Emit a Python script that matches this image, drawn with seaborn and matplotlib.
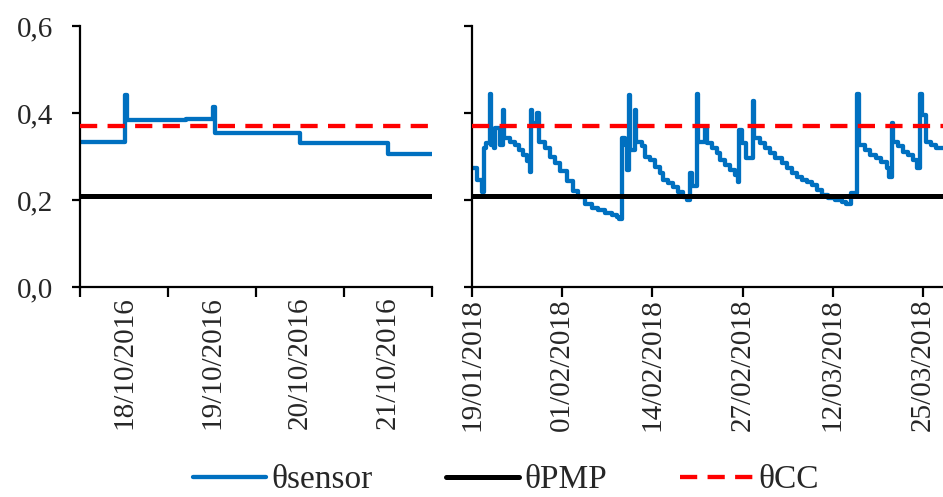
import matplotlib
matplotlib.use("Agg")
import matplotlib.pyplot as plt
from matplotlib.lines import Line2D
from matplotlib.ticker import FixedLocator, FixedFormatter
import pandas as pd
import seaborn as sns

# ---- data (days since the first plotted day, soil moisture theta) ----
left_days = [0.0, 0.51, 0.53, 1.2, 1.51, 1.53, 2.50, 3.50, 4.0]
left_theta = [0.334, 0.441, 0.384, 0.386, 0.414, 0.354, 0.330, 0.306, 0.306]

right_days = [0.0, 0.68, 1.44, 1.73, 1.97, 2.59, 2.74, 3.10, 3.31, 4.03, 4.51, 4.68,
              5.48, 6.20, 6.77, 7.35, 7.93, 8.29, 8.57, 8.72, 9.44, 9.65,
              10.52, 11.24, 11.96, 12.68, 13.65, 14.60, 15.32, 16.28, 17.25, 18.20,
              19.16, 20.13, 20.85, 21.18, 21.57, 22.05, 22.41, 22.67, 22.84, 23.44,
              23.63, 24.45, 24.93, 25.65, 26.37, 27.09, 27.56, 28.29, 29.01, 29.73,
              30.45, 30.94, 31.41, 31.66, 32.46, 32.64, 33.57, 33.82, 34.54, 35.26,
              35.73, 36.46, 37.18, 37.90, 38.29, 38.47, 38.95, 39.44, 40.53, 40.68,
              41.50, 42.22, 42.94, 43.66, 44.63, 45.35, 46.07, 46.79, 47.51, 48.23,
              48.95, 49.67, 50.39, 51.34, 52.31, 53.27, 53.89, 54.57, 55.52, 55.81,
              56.63, 57.35, 58.31, 59.03, 59.76, 60.13, 60.48, 60.71, 61.43, 62.15,
              62.87, 63.59, 64.17, 64.55, 64.94, 65.52, 66.24, 66.96, 67.9]
right_theta = [0.273, 0.246, 0.219, 0.319, 0.330, 0.444, 0.326, 0.319, 0.365, 0.326, 0.408, 0.342,
               0.334, 0.326, 0.315, 0.304, 0.290, 0.265, 0.408, 0.376, 0.401, 0.333,
               0.319, 0.300, 0.285, 0.266, 0.243, 0.220, 0.206, 0.191, 0.181, 0.176,
               0.171, 0.165, 0.160, 0.157, 0.342, 0.326, 0.269, 0.441, 0.315, 0.408,
               0.334, 0.323, 0.300, 0.292, 0.277, 0.261, 0.246, 0.238, 0.230, 0.219,
               0.207, 0.200, 0.261, 0.233, 0.444, 0.334, 0.365, 0.331, 0.319, 0.307,
               0.292, 0.280, 0.269, 0.257, 0.242, 0.361, 0.330, 0.296, 0.428, 0.342,
               0.331, 0.319, 0.308, 0.296, 0.285, 0.273, 0.262, 0.254, 0.246, 0.242,
               0.235, 0.223, 0.212, 0.204, 0.200, 0.196, 0.190, 0.215, 0.444, 0.326,
               0.315, 0.304, 0.296, 0.288, 0.273, 0.254, 0.376, 0.334, 0.323, 0.311,
               0.304, 0.292, 0.273, 0.444, 0.395, 0.334, 0.326, 0.319, 0.319]

theta_pmp = 0.21
theta_cc = 0.369

left_labels = ["18/10/2016", "19/10/2016", "20/10/2016", "21/10/2016"]
left_label_days = [0.5, 1.5, 2.5, 3.5]
left_tick_days = [0, 1, 2, 3, 4]
right_labels = ["19/01/2018", "01/02/2018", "14/02/2018", "27/02/2018", "12/03/2018", "25/03/2018"]
right_label_days = [0, 13, 26, 39, 52, 65]
y_ticks = [0.0, 0.2, 0.4, 0.6]
series_names = ["θsensor", "θPMP", "θCC"]

# ---- style ----
sns.set_style("ticks")
plt.rcParams['font.family'] = ['Liberation Serif', 'DejaVu Serif']
plt.rcParams['font.size'] = 21

BLUE = "#0070C0"
BLACK = "#000000"
RED = "#FF0000"
LW = 3.1
LW_PMP = 3.6
DASH = (0, (4.0, 2.4))

fig = plt.figure(figsize=(9.43, 4.97), dpi=100)
axL = fig.add_axes([80 / 943, 210 / 497, 352 / 943, 261 / 497])
axR = fig.add_axes([472 / 943, 210 / 497, 471 / 943, 261 / 497])

dfL = pd.DataFrame({"day": left_days, "theta": left_theta})
dfR = pd.DataFrame({"day": right_days, "theta": right_theta})

for ax, df in ((axL, dfL), (axR, dfR)):
    sns.lineplot(data=df, x="day", y="theta", ax=ax, color=BLUE, lw=LW,
                 drawstyle="steps-post", estimator=None, sort=False, zorder=2)
    ax.axhline(theta_pmp, color=BLACK, lw=LW_PMP, zorder=3)
    ax.axhline(theta_cc, color=RED, lw=LW, linestyle=DASH, zorder=4)
    ax.set_ylim(0, 0.6)
    ax.set_xlabel("")
    ax.set_ylabel("")
    for s in ("top", "right"):
        ax.spines[s].set_visible(False)
    for s in ("left", "bottom"):
        ax.spines[s].set_color("black")
        ax.spines[s].set_linewidth(1.6)
    ax.yaxis.set_major_locator(FixedLocator(y_ticks))
    ax.tick_params(axis="y", direction="out", length=6, width=1.6, color="black")

# y tick labels (left panel only)
axL.set_yticklabels([f"{v:.1f}".replace(".", ",") for v in y_ticks], fontsize=21)
axL.tick_params(axis="y", pad=13)
axR.set_yticklabels([])

# left panel x axis: ticks at day boundaries, labels centred between them
axL.set_xlim(0, 4)
axL.xaxis.set_major_locator(FixedLocator(left_tick_days))
axL.xaxis.set_major_formatter(FixedFormatter([""] * len(left_tick_days)))
axL.xaxis.set_minor_locator(FixedLocator(left_label_days))
axL.xaxis.set_minor_formatter(FixedFormatter(left_labels))
axL.tick_params(axis="x", which="major", direction="out", length=7, width=1.6, color="black")
axL.tick_params(axis="x", which="minor", length=0, pad=7, labelrotation=90, labelsize=21)

# right panel x axis
axR.set_xlim(0, 67.9)
axR.xaxis.set_major_locator(FixedLocator(right_label_days))
axR.xaxis.set_major_formatter(FixedFormatter(right_labels))
axR.tick_params(axis="x", which="major", direction="out", length=7, width=1.6,
                color="black", pad=1, labelrotation=90, labelsize=21)
axR.tick_params(axis="x", which="minor", length=0)

for lab in axL.get_xticklabels(minor=True) + axR.get_xticklabels():
    lab.set_va("top")
    lab.set_ha("center")

handles = [Line2D([], [], color=BLUE, lw=LW),
           Line2D([], [], color=BLACK, lw=LW_PMP),
           Line2D([], [], color=RED, lw=LW, linestyle=DASH)]
fig.legend(handles, series_names, loc="center", bbox_to_anchor=(506 / 943, 17 / 497),
           ncol=3, frameon=False, handlelength=2.2, handletextpad=0.15,
           columnspacing=2.2, fontsize=24)

fig.savefig("out.png", dpi=100)
